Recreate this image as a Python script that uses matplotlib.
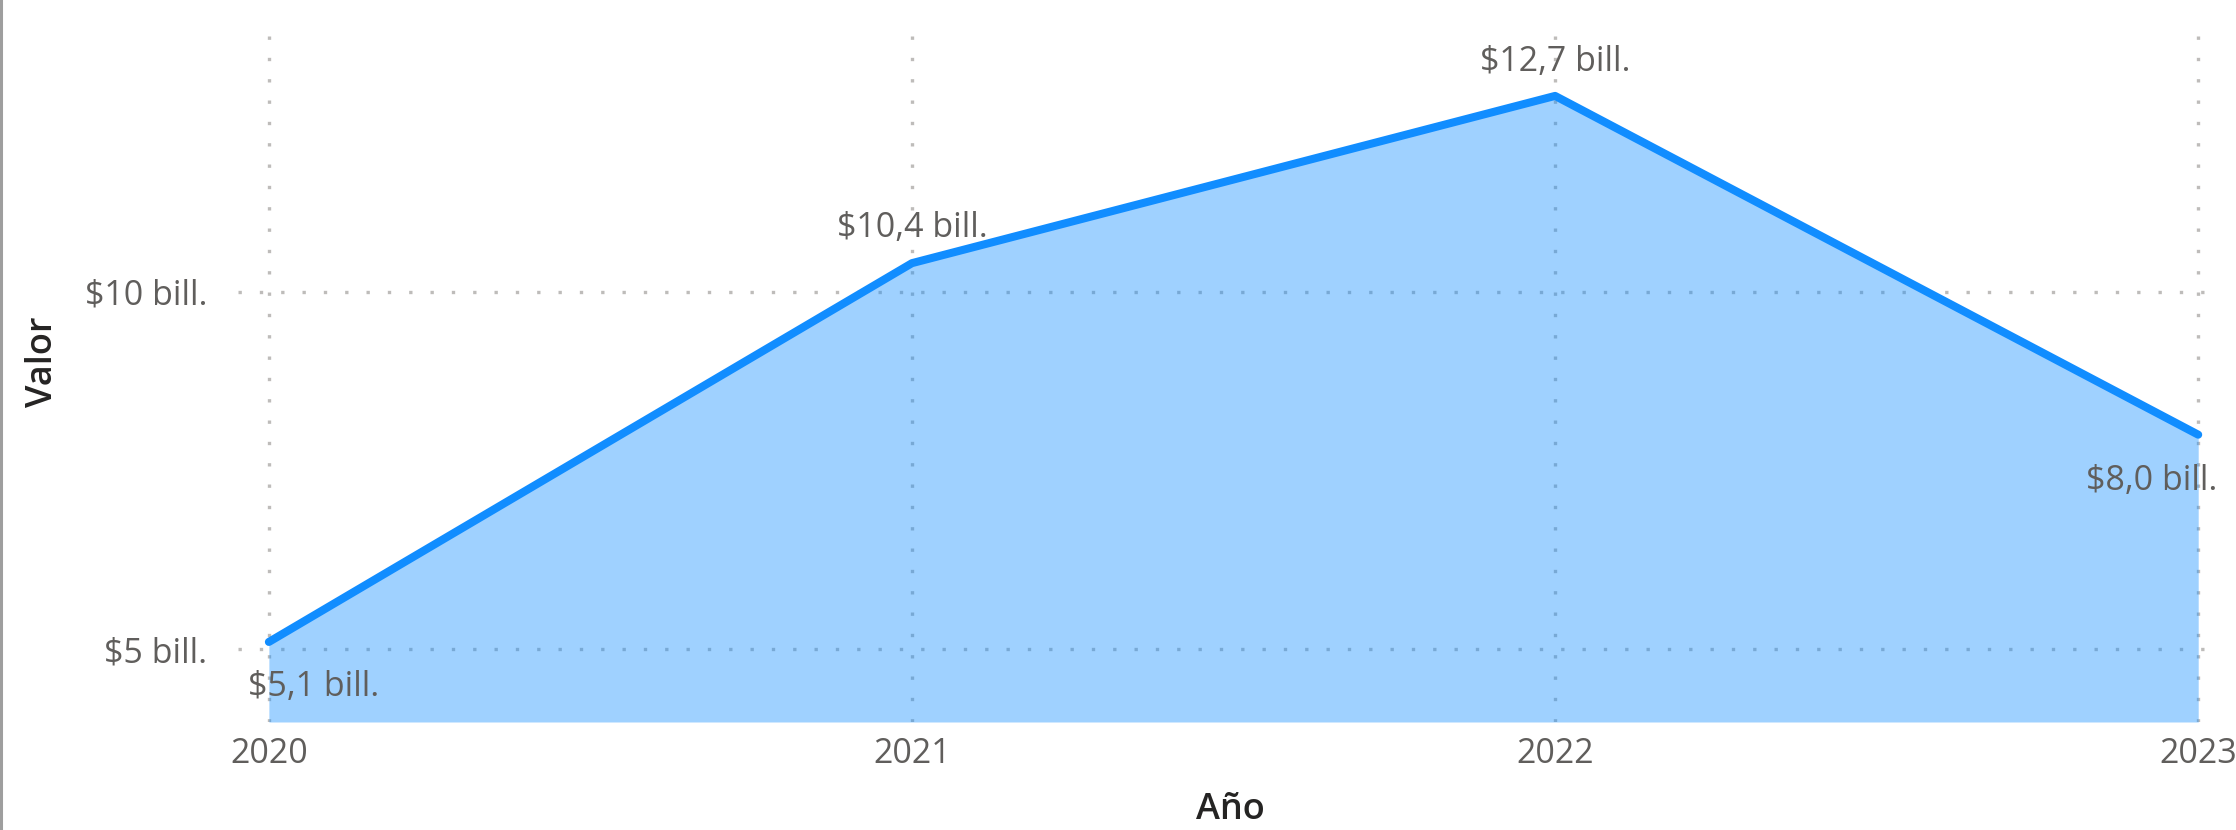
import matplotlib
matplotlib.use("Agg")
import matplotlib.pyplot as plt
from matplotlib.lines import Line2D

# ---- data ----
years = [2020, 2021, 2022, 2023]
values = [5.1, 10.4, 12.74, 8.0]          # billions
ytick_values = [5, 10]
ytick_labels = ["$5 bill.", "$10 bill."]
xlabel = "Año"
ylabel = "Valor"

# ---- styles ----
LINE = "#118DFF"
TICK_C = "#605E5C"
TITLE_C = "#252423"
GRID_C = "#BEBCBA"
FONT = "Open Sans"
FS = 24.5

W, H, DPI = 2236, 830, 100
fig = plt.figure(figsize=(W / DPI, H / DPI), dpi=DPI)
ax = fig.add_axes([238 / W, (H - 722) / H, (2222 - 238) / W, (722 - 18) / H])

ax.fill_between(years, values, 3.98, color=LINE, alpha=0.4, linewidth=0, zorder=2)
ax.plot(years, values, color=LINE, linewidth=5.8, solid_capstyle="round",
        solid_joinstyle="round", zorder=3)

ax.set_xlim(2019.952, 2023.037)
ax.set_ylim(3.98, 13.83)

ax.set_xticks(years)
ax.set_xticklabels([str(y) for y in years], fontsize=FS, color=TICK_C, family=FONT)
ax.set_yticks(ytick_values)
ax.set_yticklabels(ytick_labels, fontsize=FS, color=TICK_C, family=FONT)
ax.tick_params(axis="both", length=0)
ax.tick_params(axis="y", pad=22)
ax.tick_params(axis="x", pad=11)

for s in ax.spines.values():
    s.set_visible(False)

ax.grid(True, color=GRID_C, linewidth=2.4, linestyle=(0, (1, 5.4)),
        dash_capstyle="butt", zorder=1)
ax.set_axisbelow(True)

ax.set_xlabel(xlabel, fontsize=26, color=TITLE_C, family=FONT, fontweight="semibold")
ax.xaxis.set_label_coords(0.5, (722 - 810) / (722 - 18))
ax.xaxis.label.set_va("center")
ax.set_ylabel(ylabel, fontsize=26, color=TITLE_C, family=FONT, fontweight="semibold")
ax.yaxis.set_label_coords((43 - 238) / (2222 - 238), (722 - 362) / (722 - 18))
ax.yaxis.label.set_va("center")

# data labels (layout: alignment, pixel offsets)
label_layout = [("left", -21, -45), ("center", 0, 35), ("center", 0, 34), ("right", 19, -46)]
for x, v, (ha, dx, dy) in zip(years, values, label_layout):
    txt = "$" + f"{v:.1f}".replace(".", ",") + " bill."
    ax.annotate(txt, (x, v), xytext=(dx, dy), textcoords="offset pixels",
                ha=ha, va="center", fontsize=FS, color=TICK_C, family=FONT,
                zorder=4, annotation_clip=False)

# left border line of the visual
fig.add_artist(Line2D([1.5 / W, 1.5 / W], [0, 1], color="#9E9E9E", linewidth=2.2,
                      transform=fig.transFigure))

fig.savefig("out.png", dpi=DPI)
